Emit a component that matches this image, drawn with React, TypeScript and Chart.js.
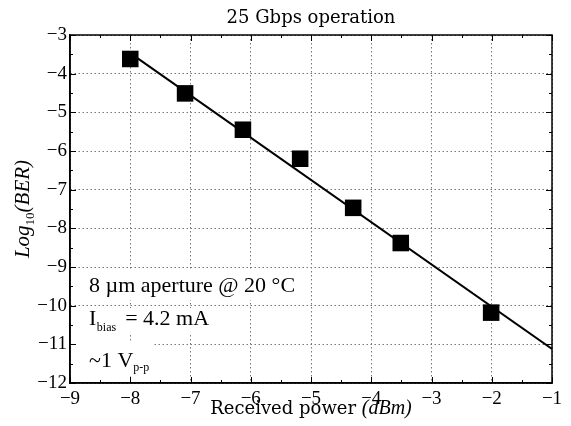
import React, { useEffect, useRef } from "react";
import { Chart, registerables } from "chart.js";

Chart.register(...registerables);

// ---- data ----
const receivedPower = [-8.0, -7.09, -6.13, -5.18, -4.3, -3.51, -2.01];
const log10Ber = [-3.62, -4.51, -5.45, -6.2, -7.47, -8.38, -10.18];
const fitPower = [-8.0, -1.0];
const fitLogBer = [-3.47, -11.12];
const xMin = -9;
const xMax = -1;
const yMin = -12;
const yMax = -3;
const titleText = "25 Gbps operation";
const xLabelMain = "Received power ";
const xLabelUnit = "(dBm)";
const yLabelMain = "Log";
const yLabelSub = "10";
const yLabelTail = "(BER)";
const note1 = "8 µm aperture @ 20 °C";
const note2Main = "I";
const note2Sub = "bias";
const note2Tail = "= 4.2 mA";
const note3Main = "~1 V";
const note3Sub = "p-p";

const SERIF = "'Liberation Serif', 'Times New Roman', serif";
const DSERIF = "'DejaVu Serif', serif";

const fmt = (v: number) => (v < 0 ? "\u2212" + Math.abs(v) : String(v));

type Seg = { text: string; font: string; dy: number; gap?: number };

function drawSegs(ctx: CanvasRenderingContext2D, segs: Seg[], x: number, y: number) {
  let cx = x;
  for (const s of segs) {
    cx += s.gap || 0;
    ctx.font = s.font;
    ctx.fillText(s.text, cx, y + s.dy);
    cx += ctx.measureText(s.text).width;
  }
  return cx - x;
}
function measureSegs(ctx: CanvasRenderingContext2D, segs: Seg[]) {
  let w = 0;
  for (const s of segs) {
    w += s.gap || 0;
    ctx.font = s.font;
    w += ctx.measureText(s.text).width;
  }
  return w;
}

const decorPlugin = {
  id: "decor",
  afterDraw(chart: any) {
    const ctx: CanvasRenderingContext2D = chart.ctx;
    const { left, right, top, bottom } = chart.chartArea;
    const xs = chart.scales.x;
    const ys = chart.scales.y;
    ctx.save();
    // inward ticks on all four sides
    ctx.strokeStyle = "#000";
    ctx.lineWidth = 1;
    ctx.beginPath();
    for (let v = xMin; v <= xMax + 1e-9; v += 0.5) {
      const px = Math.round(xs.getPixelForValue(v)) + 0.5;
      const len = Math.abs(v - Math.round(v)) < 1e-9 ? 6 : 3;
      ctx.moveTo(px, bottom);
      ctx.lineTo(px, bottom - len);
      ctx.moveTo(px, top);
      ctx.lineTo(px, top + len);
    }
    for (let v = yMin; v <= yMax + 1e-9; v += 0.5) {
      const py = Math.round(ys.getPixelForValue(v)) + 0.5;
      const len = Math.abs(v - Math.round(v)) < 1e-9 ? 6 : 3;
      ctx.moveTo(left, py);
      ctx.lineTo(left + len, py);
      ctx.moveTo(right, py);
      ctx.lineTo(right - len, py);
    }
    ctx.stroke();
    // frame
    ctx.lineWidth = 1.5;
    ctx.strokeRect(left, top, right - left, bottom - top);

    ctx.fillStyle = "#000";
    ctx.textBaseline = "alphabetic";
    ctx.textAlign = "left";
    const cx = (left + right) / 2;

    // title
    ctx.font = `18px ${DSERIF}`;
    const tw = ctx.measureText(titleText).width;
    ctx.fillText(titleText, cx - tw / 2, 23);

    // x label
    const xSegs: Seg[] = [
      { text: xLabelMain, font: `18px ${DSERIF}`, dy: 0 },
      { text: xLabelUnit, font: `italic 20px ${SERIF}`, dy: 0 },
    ];
    const xw = measureSegs(ctx, xSegs);
    drawSegs(ctx, xSegs, cx - xw / 2, 414);

    // y label (rotated)
    const ySegs: Seg[] = [
      { text: yLabelMain, font: `italic 21px ${SERIF}`, dy: 0 },
      { text: yLabelSub, font: `13px ${SERIF}`, dy: 5 },
      { text: yLabelTail, font: `italic 21px ${SERIF}`, dy: 0 },
    ];
    const yw = measureSegs(ctx, ySegs);
    ctx.save();
    ctx.translate(29, (top + bottom) / 2);
    ctx.rotate(-Math.PI / 2);
    drawSegs(ctx, ySegs, -yw / 2, 0);
    ctx.restore();

    // annotations with white boxes
    const notes: { segs: Seg[]; y: number; bt: number; bb: number }[] = [
      { segs: [{ text: note1, font: `22px ${SERIF}`, dy: 0 }], y: 292, bt: 270, bb: 300 },
      {
        segs: [
          { text: note2Main, font: `22px ${SERIF}`, dy: 0 },
          { text: note2Sub, font: `12px ${SERIF}`, dy: 6, gap: 0.5 },
          { text: note2Tail, font: `22px ${SERIF}`, dy: 0, gap: 9 },
        ],
        y: 325,
        bt: 308,
        bb: 333,
      },
      {
        segs: [
          { text: note3Main, font: `22px ${SERIF}`, dy: 0 },
          { text: note3Sub, font: `12px ${SERIF}`, dy: 4 },
        ],
        y: 367,
        bt: 342,
        bb: 376,
      },
    ];
    const nx = 89;
    for (const n of notes) {
      const w = measureSegs(ctx, n.segs);
      ctx.fillStyle = "#fff";
      ctx.fillRect(nx - 11, n.bt, w + 15, n.bb - n.bt);
      ctx.fillStyle = "#000";
      drawSegs(ctx, n.segs, nx, n.y);
    }
    ctx.restore();
  },
};

export default function App() {
  const ref = useRef<HTMLCanvasElement | null>(null);
  useEffect(() => {
    if (!ref.current) return;
    const chart = new Chart(ref.current, {
      type: "scatter",
      data: {
        datasets: [
          {
            data: receivedPower.map((x, i) => ({ x, y: log10Ber[i] })),
            pointStyle: "rect",
            pointRadius: 11.7,
            pointHoverRadius: 11.7,
            backgroundColor: "#000",
            borderColor: "#000",
            borderWidth: 0,
            order: 0,
          },
          {
            data: fitPower.map((x, i) => ({ x, y: fitLogBer[i] })),
            showLine: true,
            pointRadius: 0,
            borderColor: "#000",
            borderWidth: 2,
            order: 1,
          },
        ],
      },
      options: {
        animation: false,
        responsive: false,
        events: [],
        layout: { padding: { top: 35, right: 19, left: 0, bottom: 0 } },
        plugins: { legend: { display: false }, tooltip: { enabled: false }, title: { display: false } },
        scales: {
          x: {
            type: "linear",
            min: xMin,
            max: xMax,
            afterFit: (s: any) => {
              s.height = 43;
            },
            ticks: {
              stepSize: 1,
              padding: 5,
              color: "#000",
              font: { family: SERIF, size: 19 },
              callback: (v: any) => fmt(Number(v)),
            },
            grid: { color: "#777", lineWidth: 1, drawTicks: false },
            border: { display: true, color: "#000", width: 1.5, dash: [1.5, 2.5] },
          },
          y: {
            type: "linear",
            min: yMin,
            max: yMax,
            afterFit: (s: any) => {
              s.width = 70;
            },
            ticks: {
              stepSize: 1,
              padding: 3,
              color: "#000",
              font: { family: SERIF, size: 19 },
              callback: (v: any) => fmt(Number(v)),
            },
            grid: { color: "#777", lineWidth: 1, drawTicks: false },
            border: { display: true, color: "#000", width: 1.5, dash: [1.5, 2.5] },
          },
        },
      },
      plugins: [decorPlugin],
    } as any);
    return () => chart.destroy();
  }, []);
  return (
    <div style={{ position: "absolute", left: 0, top: 0, width: 571, height: 426, background: "#fff" }}>
      <canvas ref={ref} width={571} height={426} style={{ width: 571, height: 426, display: "block" }} />
    </div>
  );
}
